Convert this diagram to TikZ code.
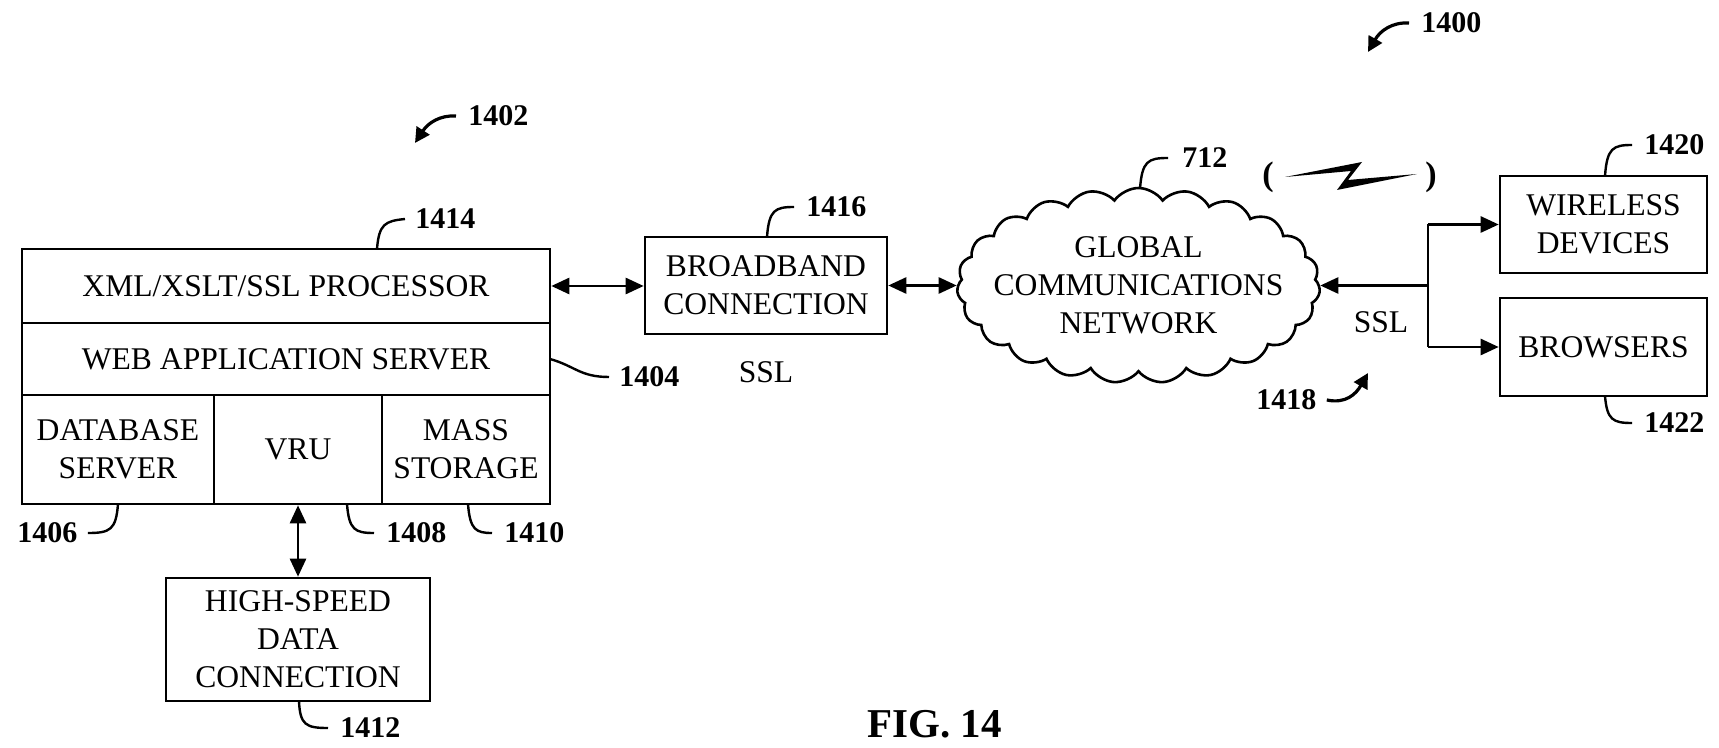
\documentclass[tikz,border=0pt]{standalone}
\usepackage{fontspec}
\setmainfont{Liberation Serif}
\usetikzlibrary{arrows.meta,shapes.symbols}
\begin{document}
\begin{tikzpicture}[x=0.5pt,y=-0.5pt,
  box/.style={draw,line width=1.3pt,inner sep=0pt,align=center,font=\fontsize{15.8}{19}\selectfont},
  txt/.style={inner sep=0pt,align=center,font=\fontsize{15.8}{19}\selectfont},
  lbl/.style={inner sep=0pt,anchor=west,font=\fontsize{15}{18}\bfseries\selectfont},
  lead/.style={line width=1.2pt},
  conn/.style={line width=1.3pt},
  biarrow/.style={conn,{Triangle[length=9pt,width=8pt]}-{Triangle[length=9pt,width=8pt]}},
  onearrow/.style={conn,-{Triangle[length=9pt,width=8pt]}},
  refarrow/.style={line width=1.6pt,-{Triangle[length=7.5pt,width=7.5pt]}}
]
\useasboundingbox (0,0) rectangle (1719,748);

% left server stack
\node[box,minimum width=264pt,minimum height=37pt] (xml) at (286,286) {XML/XSLT/SSL PROCESSOR};
\node[box,minimum width=264pt,minimum height=36pt] (web) at (286,359) {WEB APPLICATION SERVER};
\node[box,minimum width=96pt,minimum height=54.5pt] (db) at (118,449.5) {DATABASE\\SERVER};
\node[box,minimum width=84pt,minimum height=54.5pt] (vru) at (298,449.5) {VRU};
\node[box,minimum width=84pt,minimum height=54.5pt] (mass) at (466,449.5) {MASS\\STORAGE};
\node[box,minimum width=132pt,minimum height=61.5pt] (hs) at (298,639.5) {HIGH-SPEED\\DATA\\CONNECTION};

% broadband
\node[box,minimum width=121pt,minimum height=48.5pt] (bb) at (766,285.5) {BROADBAND\\CONNECTION};

% cloud
\node[cloud,draw,line width=1.3pt,cloud puffs=23,cloud puff arc=110,aspect=1.86,
      minimum width=181.5pt,minimum height=97.5pt,inner sep=0pt] (net) at (1138.5,285.5) {};
\node[txt] (nettxt) at (1138.5,285.5) {GLOBAL\\COMMUNICATIONS\\NETWORK};

% right boxes
\node[box,minimum width=103.5pt,minimum height=48.5pt] (wl) at (1603.5,224.5) {WIRELESS\\DEVICES};
\node[box,minimum width=103.5pt,minimum height=49pt] (br) at (1603.5,347) {BROWSERS};

% SSL texts
\node[txt] (ssl1) at (766,372) {SSL};
\node[txt] (ssl2) at (1381,322) {SSL};

% connectors
\draw[biarrow] (xml.east) -- (bb.west |- xml.east);
\draw[biarrow] (bb.east) -- (net.west);
\draw[biarrow] (hs.north) -- (hs.north |- vru.south);
\coordinate (j) at (1428,285.5);
\coordinate (jt) at (1428,224.5);
\coordinate (jb) at (1428,347);
\draw[onearrow] (j) -- (net.east);
\draw[conn] (jt) -- (jb);
\draw[onearrow] (jt) -- (wl.west);
\draw[onearrow] (jb) -- (br.west);

% wireless symbol
\node[inner sep=0pt,font=\fontsize{17}{20}\bfseries\selectfont] (lp) at (1268,177) {(};
\node[inner sep=0pt,font=\fontsize{17}{20}\bfseries\selectfont] (rp) at (1431,177) {)};
\fill (1285,177) -- (1362,162) -- (1348,180) -- (1417,174) -- (1337,190) -- (1351,171) -- cycle;

% reference labels
\node[lbl] (l1400) at (1421,23) {1400};
\node[lbl] (l1402) at (468,116) {1402};
\node[lbl] (l1414) at (415,219) {1414};
\node[lbl] (l1404) at (619,377) {1404};
\node[lbl] (l1406) at (17,533) {1406};
\node[lbl] (l1408) at (386,533) {1408};
\node[lbl] (l1410) at (504,533) {1410};
\node[lbl] (l1412) at (340,728) {1412};
\node[lbl] (l1416) at (806,207) {1416};
\node[lbl] (l712) at (1182,158) {712};
\node[lbl] (l1418) at (1256,400) {1418};
\node[lbl] (l1420) at (1644,145) {1420};
\node[lbl] (l1422) at (1644,423) {1422};

% leaders
\draw[lead] (377,249) .. controls (379,224) and (385,221) .. ([xshift=-5pt]l1414.west);
\draw[lead] (550,359) .. controls (575,366) and (580,377) .. ([xshift=-5pt]l1404.west);
\draw[lead] (118,504) .. controls (116,530) and (110,533) .. ([xshift=5pt]l1406.east);
\draw[lead] (347,504) .. controls (349,530) and (355,533) .. ([xshift=-6pt]l1408.west);
\draw[lead] (468,504) .. controls (470,530) and (476,533) .. ([xshift=-6pt]l1410.west);
\draw[lead] (299,701) .. controls (300,725) and (306,728) .. ([xshift=-6pt]l1412.west);
\draw[lead] (767,237) .. controls (769,210) and (775,207) .. ([xshift=-6pt]l1416.west);
\draw[lead] (1140,189) .. controls (1142,161) and (1148,158) .. ([xshift=-7pt]l712.west);
\draw[lead] (1605,176) .. controls (1607,148) and (1613,145) .. ([xshift=-6pt]l1420.west);
\draw[lead] (1605,396) .. controls (1607,420) and (1613,423) .. ([xshift=-6pt]l1422.west);

% curved reference arrows
\coordinate (a1400) at (1368,52);
\coordinate (a1402) at (415,143);
\coordinate (a1418) at (1368,373);
\draw[refarrow] ([xshift=-6pt]l1400.west) .. controls (1392,22) and (1380,31) .. (a1400);
\draw[refarrow] ([xshift=-6pt]l1402.west) .. controls (440,115) and (428,123) .. (a1402);
\draw[refarrow] ([xshift=5pt]l1418.east) .. controls (1346,404) and (1356,394) .. (a1418);

% figure caption
\node[inner sep=0pt,anchor=base,font=\fontsize{20.5}{24}\bfseries\selectfont] (fig) at (934.5,737) {FIG. 14};
\end{tikzpicture}
\end{document}
